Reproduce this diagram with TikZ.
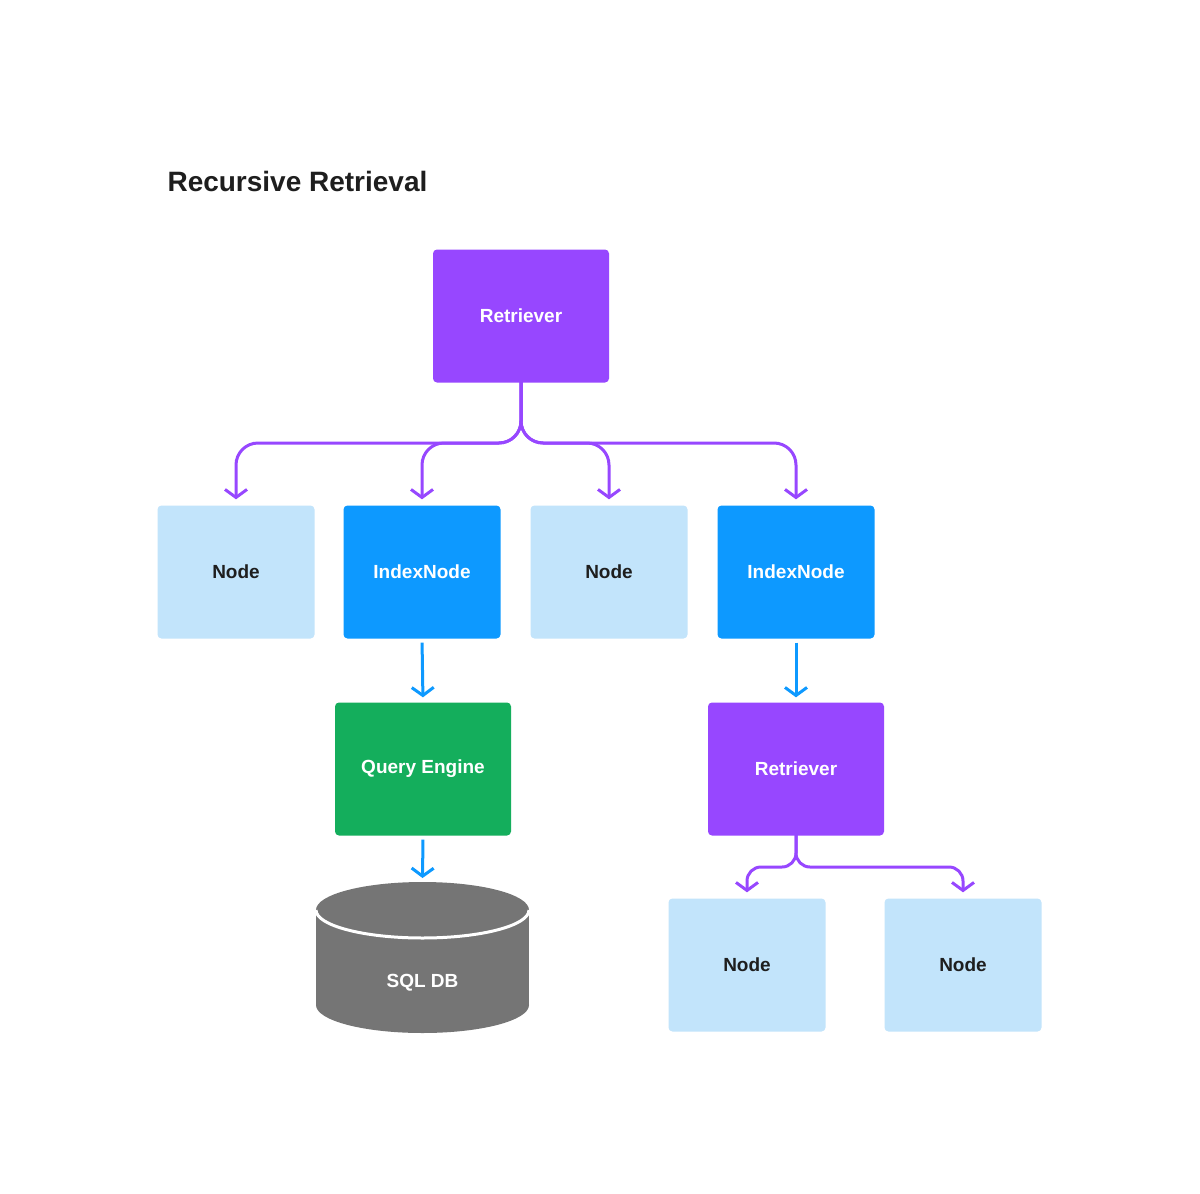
\documentclass[tikz,border=0pt]{standalone}
\usepackage{fontspec}
\setmainfont{Liberation Sans}
\usetikzlibrary{arrows.meta}
\definecolor{retpurple}{HTML}{9747FF}
\definecolor{idxblue}{HTML}{0D99FF}
\definecolor{leafblue}{HTML}{C2E4FB}
\definecolor{qegreen}{HTML}{14AE5C}
\definecolor{dbgray}{HTML}{757575}
\definecolor{txtdark}{HTML}{1E1E1E}
\begin{document}
\begin{tikzpicture}[
  x=1pt, y=-1pt,
  box/.style={
    rectangle, rounded corners=4pt,
    minimum width=176pt, minimum height=133pt,
    font=\fontsize{19}{23}\selectfont\bfseries
  },
  retriever/.style={box, fill=retpurple, text=white},
  qengine/.style={box, fill=qegreen, text=white},
  indexnode/.style={box, minimum width=157pt, fill=idxblue, text=white},
  leaf/.style={box, minimum width=157pt, fill=leafblue, text=txtdark},
  purplelink/.style={draw=retpurple, line width=3pt, rounded corners=22pt,
    -{Straight Barb[length=8pt,width=22pt,line width=3pt]}, shorten >=6pt},
  bluelink/.style={draw=idxblue, line width=3pt,
    -{Straight Barb[length=8pt,width=22pt,line width=3pt]}, shorten >=5pt, shorten <=4pt}
]
\useasboundingbox (0,0) rectangle (1200,1194);
\fill[white] (0,0) rectangle (1200,1194);

% title
\node (title) [anchor=base west, text=txtdark,
  font=\fontsize{28}{34}\selectfont\bfseries] at (164,191) {Recursive Retrieval};

% top level
\node (ret1) [retriever] at (521,316) {Retriever};
\node (leaf1) [leaf]      at (236,572) {Node};
\node (idx1)  [indexnode] at (422,572) {IndexNode};
\node (leaf2) [leaf]      at (609,572) {Node};
\node (idx2)  [indexnode] at (796,572) {IndexNode};

% second level
\node (qe)   [qengine]   at (423,769) {Query Engine};
\node (ret2) [retriever] at (796,769) {Retriever};
\node (leaf3) [leaf] at (747,965) {Node};
\node (leaf4) [leaf] at (963,965) {Node};

% database
\fill[dbgray] (316,910) rectangle (529,1005);
\fill[dbgray] (422.5,1005) ellipse [x radius=106.5, y radius=28];
\fill[dbgray] (422.5,910) ellipse [x radius=106.5, y radius=28];
\draw[white, line width=3pt] (316,910) arc [start angle=180, end angle=0,
  x radius=106.5, y radius=28];
\node (db) [text=white, font=\fontsize{19}{23}\selectfont\bfseries] at (422.5,983) {SQL DB};
\coordinate (dbtop) at (422.5,880);

% connectors
\coordinate (spine1) at (0,443);
\coordinate (spine2) at (0,867);
\foreach \child in {leaf1,idx1,leaf2,idx2}
  \draw[purplelink] ([yshift=4pt]ret1.south) |- (\child.north |- spine1) -- (\child.north);
\foreach \child in {leaf3,leaf4}
  \draw[purplelink, rounded corners=14pt] ([yshift=4pt]ret2.south) |- (\child.north |- spine2) -- (\child.north);
\draw[bluelink] (idx1.south) -- (qe.north);
\draw[bluelink] (idx2.south) -- (ret2.north);
\draw[bluelink, shorten >=2pt] (qe.south) -- (dbtop);
\end{tikzpicture}
\end{document}
